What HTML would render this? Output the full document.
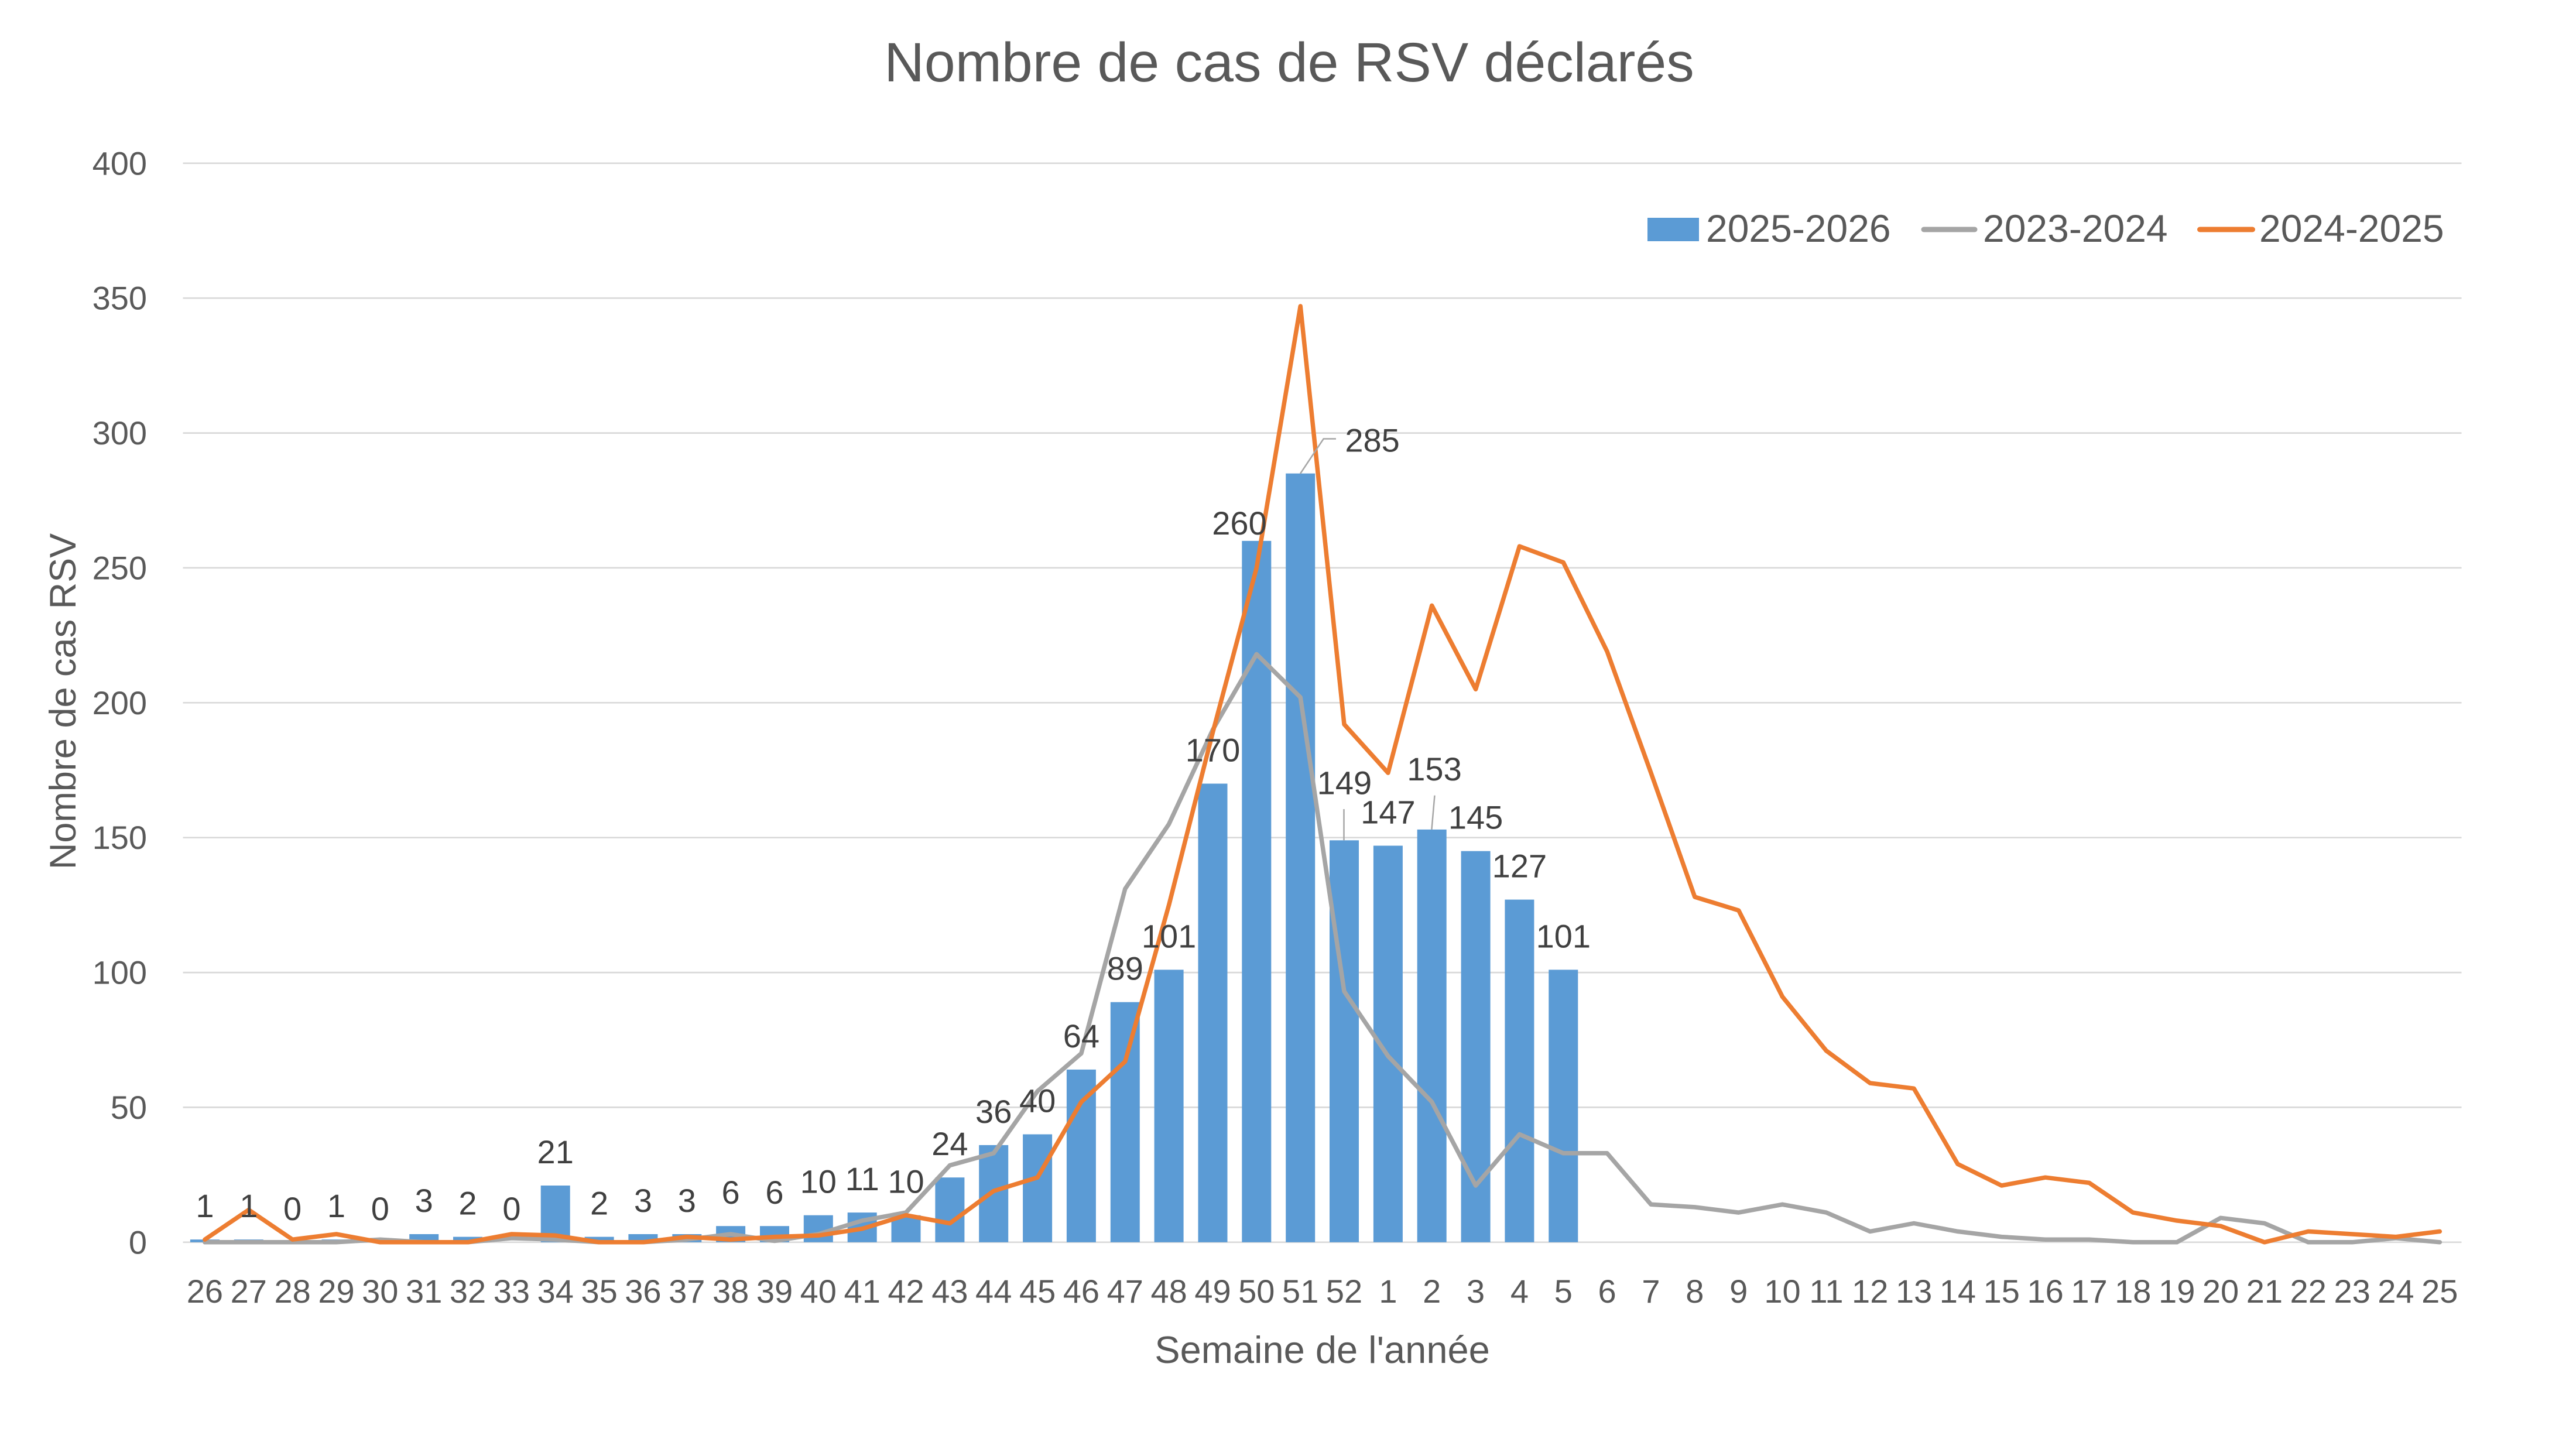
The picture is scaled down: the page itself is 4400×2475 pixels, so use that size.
<!DOCTYPE html>
<html><head><meta charset="utf-8"><style>
html,body{margin:0;padding:0;background:#fff;}
svg{display:block;}
text{font-family:"Liberation Sans",Arial,sans-serif;}
</style></head><body>
<svg width="4400" height="2475" viewBox="0 0 4400 2475" xmlns="http://www.w3.org/2000/svg">
<rect x="0" y="0" width="4400" height="2475" fill="#ffffff"/>
<!-- title -->
<text x="2202" y="139" font-size="95" fill="#595959" text-anchor="middle">Nombre de cas de RSV déclarés</text>
<!-- gridlines -->
<g stroke="#d9d9d9" stroke-width="2.7">
<line x1="312.5" y1="278.8" x2="4204.5" y2="278.8"/>
<line x1="312.5" y1="509.2" x2="4204.5" y2="509.2"/>
<line x1="312.5" y1="739.6" x2="4204.5" y2="739.6"/>
<line x1="312.5" y1="969.9" x2="4204.5" y2="969.9"/>
<line x1="312.5" y1="1200.3" x2="4204.5" y2="1200.3"/>
<line x1="312.5" y1="1430.7" x2="4204.5" y2="1430.7"/>
<line x1="312.5" y1="1661.1" x2="4204.5" y2="1661.1"/>
<line x1="312.5" y1="1891.4" x2="4204.5" y2="1891.4"/>
<line x1="312.5" y1="2121.8" x2="4204.5" y2="2121.8"/>
</g>
<!-- y tick labels -->
<g font-size="56" fill="#595959" text-anchor="end">
<text x="251" y="298.3">400</text>
<text x="251" y="528.7">350</text>
<text x="251" y="759.1">300</text>
<text x="251" y="989.4">250</text>
<text x="251" y="1219.8">200</text>
<text x="251" y="1450.2">150</text>
<text x="251" y="1680.6">100</text>
<text x="251" y="1910.9">50</text>
<text x="251" y="2141.3">0</text>
</g>
<!-- bars -->
<g fill="#5b9bd5">
<rect x="324.9" y="2117.2" width="50" height="4.6"/>
<rect x="399.8" y="2117.2" width="50" height="4.6"/>
<rect x="549.5" y="2117.2" width="50" height="4.6"/>
<rect x="699.2" y="2108.0" width="50" height="13.8"/>
<rect x="774.0" y="2112.6" width="50" height="9.2"/>
<rect x="923.7" y="2025.0" width="50" height="96.8"/>
<rect x="998.6" y="2112.6" width="50" height="9.2"/>
<rect x="1073.4" y="2108.0" width="50" height="13.8"/>
<rect x="1148.3" y="2108.0" width="50" height="13.8"/>
<rect x="1223.1" y="2094.2" width="50" height="27.6"/>
<rect x="1298.0" y="2094.2" width="50" height="27.6"/>
<rect x="1372.8" y="2075.7" width="50" height="46.1"/>
<rect x="1447.7" y="2071.1" width="50" height="50.7"/>
<rect x="1522.5" y="2075.7" width="50" height="46.1"/>
<rect x="1597.4" y="2011.2" width="50" height="110.6"/>
<rect x="1672.2" y="1955.9" width="50" height="165.9"/>
<rect x="1747.1" y="1937.5" width="50" height="184.3"/>
<rect x="1821.9" y="1826.9" width="50" height="294.9"/>
<rect x="1896.8" y="1711.7" width="50" height="410.1"/>
<rect x="1971.6" y="1656.4" width="50" height="465.4"/>
<rect x="2046.5" y="1338.5" width="50" height="783.3"/>
<rect x="2121.3" y="923.9" width="50" height="1197.9"/>
<rect x="2196.2" y="808.7" width="50" height="1313.1"/>
<rect x="2271.0" y="1435.3" width="50" height="686.5"/>
<rect x="2345.9" y="1444.5" width="50" height="677.3"/>
<rect x="2420.7" y="1416.9" width="50" height="704.9"/>
<rect x="2495.6" y="1453.7" width="50" height="668.1"/>
<rect x="2570.4" y="1536.6" width="50" height="585.2"/>
<rect x="2645.3" y="1656.4" width="50" height="465.4"/>
</g>
<!-- gray line 2023-2024 -->
<polyline fill="none" stroke="#a5a5a5" stroke-width="7.5" stroke-linejoin="round" stroke-linecap="round" points="349.9,2121.8 424.8,2121.8 499.6,2121.8 574.5,2121.8 649.3,2117.2 724.2,2121.8 799.0,2121.8 873.9,2114.9 948.7,2117.2 1023.6,2121.8 1098.4,2121.8 1173.3,2117.2 1248.1,2108.0 1323.0,2119.5 1397.8,2108.0 1472.7,2084.9 1547.5,2071.1 1622.4,1990.5 1697.2,1969.8 1772.1,1863.8 1846.9,1799.3 1921.8,1518.2 1996.6,1407.6 2071.5,1246.4 2146.3,1117.4 2221.2,1191.1 2296.0,1693.3 2370.9,1803.9 2445.7,1882.2 2520.6,2025.0 2595.4,1937.5 2670.3,1969.8 2745.1,1969.8 2820.0,2057.3 2894.8,2061.9 2969.7,2071.1 3044.5,2057.3 3119.4,2071.1 3194.2,2103.4 3269.1,2089.5 3343.9,2103.4 3418.8,2112.6 3493.6,2117.2 3568.5,2117.2 3643.3,2121.8 3718.2,2121.8 3793.0,2080.3 3867.9,2089.5 3942.7,2121.8 4017.6,2121.8 4092.4,2114.9 4167.3,2121.8"/>
<!-- orange line 2024-2025 -->
<polyline fill="none" stroke="#ed7d31" stroke-width="7.5" stroke-linejoin="round" stroke-linecap="round" points="349.9,2117.2 424.8,2066.5 499.6,2117.2 574.5,2108.0 649.3,2121.8 724.2,2121.8 799.0,2121.8 873.9,2108.0 948.7,2110.3 1023.6,2121.8 1098.4,2121.8 1173.3,2112.6 1248.1,2117.2 1323.0,2112.6 1397.8,2110.3 1472.7,2098.8 1547.5,2075.7 1622.4,2089.5 1697.2,2034.3 1772.1,2011.2 1846.9,1882.2 1921.8,1813.1 1996.6,1545.9 2071.5,1251.0 2146.3,969.9 2221.2,523.0 2296.0,1237.2 2370.9,1320.1 2445.7,1034.4 2520.6,1177.3 2595.4,933.1 2670.3,960.7 2745.1,1112.8 2820.0,1320.1 2894.8,1532.0 2969.7,1555.1 3044.5,1702.5 3119.4,1794.7 3194.2,1850.0 3269.1,1859.2 3343.9,1988.2 3418.8,2025.0 3493.6,2011.2 3568.5,2020.4 3643.3,2071.1 3718.2,2084.9 3793.0,2094.2 3867.9,2121.8 3942.7,2103.4 4017.6,2108.0 4092.4,2112.6 4167.3,2103.4"/>
<!-- leader lines -->
<g stroke="#a6a6a6" stroke-width="2.5" fill="none">
<polyline points="2221,809 2260.7,749.5 2282,749.5"/>
<line x1="2295.5" y1="1382" x2="2295.5" y2="1435.3"/>
<line x1="2450.5" y1="1358.7" x2="2445.4" y2="1416.9"/>
</g>
<!-- data labels -->
<g font-size="56" fill="#404040" text-anchor="middle">
<text x="349.9" y="2079.2">1</text>
<text x="424.8" y="2079.2">1</text>
<text x="499.6" y="2083.8">0</text>
<text x="574.5" y="2079.2">1</text>
<text x="649.3" y="2083.8">0</text>
<text x="724.2" y="2070.0">3</text>
<text x="799.0" y="2074.6">2</text>
<text x="873.9" y="2083.8">0</text>
<text x="948.7" y="1987.0">21</text>
<text x="1023.6" y="2074.6">2</text>
<text x="1098.4" y="2070.0">3</text>
<text x="1173.3" y="2070.0">3</text>
<text x="1248.1" y="2056.2">6</text>
<text x="1323.0" y="2056.2">6</text>
<text x="1397.8" y="2037.7">10</text>
<text x="1472.7" y="2033.1">11</text>
<text x="1547.5" y="2037.7">10</text>
<text x="1622.4" y="1973.2">24</text>
<text x="1697.2" y="1917.9">36</text>
<text x="1772.1" y="1899.5">40</text>
<text x="1846.9" y="1788.9">64</text>
<text x="1921.8" y="1673.7">89</text>
<text x="1996.6" y="1618.4">101</text>
<text x="2071.5" y="1300.5">170</text>
<text x="2117" y="913">260</text>
<text x="2297.4" y="771.4" text-anchor="start">285</text>
<text x="2296.4" y="1356.6">149</text>
<text x="2370.9" y="1406.5">147</text>
<text x="2450" y="1333.2">153</text>
<text x="2520.6" y="1415.7">145</text>
<text x="2595.4" y="1498.6">127</text>
<text x="2670.3" y="1618.4">101</text>
</g>
<!-- x tick labels -->
<g font-size="56" fill="#595959" text-anchor="middle">
<text x="349.9" y="2225">26</text>
<text x="424.8" y="2225">27</text>
<text x="499.6" y="2225">28</text>
<text x="574.5" y="2225">29</text>
<text x="649.3" y="2225">30</text>
<text x="724.2" y="2225">31</text>
<text x="799.0" y="2225">32</text>
<text x="873.9" y="2225">33</text>
<text x="948.7" y="2225">34</text>
<text x="1023.6" y="2225">35</text>
<text x="1098.4" y="2225">36</text>
<text x="1173.3" y="2225">37</text>
<text x="1248.1" y="2225">38</text>
<text x="1323.0" y="2225">39</text>
<text x="1397.8" y="2225">40</text>
<text x="1472.7" y="2225">41</text>
<text x="1547.5" y="2225">42</text>
<text x="1622.4" y="2225">43</text>
<text x="1697.2" y="2225">44</text>
<text x="1772.1" y="2225">45</text>
<text x="1846.9" y="2225">46</text>
<text x="1921.8" y="2225">47</text>
<text x="1996.6" y="2225">48</text>
<text x="2071.5" y="2225">49</text>
<text x="2146.3" y="2225">50</text>
<text x="2221.2" y="2225">51</text>
<text x="2296.0" y="2225">52</text>
<text x="2370.9" y="2225">1</text>
<text x="2445.7" y="2225">2</text>
<text x="2520.6" y="2225">3</text>
<text x="2595.4" y="2225">4</text>
<text x="2670.3" y="2225">5</text>
<text x="2745.1" y="2225">6</text>
<text x="2820.0" y="2225">7</text>
<text x="2894.8" y="2225">8</text>
<text x="2969.7" y="2225">9</text>
<text x="3044.5" y="2225">10</text>
<text x="3119.4" y="2225">11</text>
<text x="3194.2" y="2225">12</text>
<text x="3269.1" y="2225">13</text>
<text x="3343.9" y="2225">14</text>
<text x="3418.8" y="2225">15</text>
<text x="3493.6" y="2225">16</text>
<text x="3568.5" y="2225">17</text>
<text x="3643.3" y="2225">18</text>
<text x="3718.2" y="2225">19</text>
<text x="3793.0" y="2225">20</text>
<text x="3867.9" y="2225">21</text>
<text x="3942.7" y="2225">22</text>
<text x="4017.6" y="2225">23</text>
<text x="4092.4" y="2225">24</text>
<text x="4167.3" y="2225">25</text>
</g>
<!-- axis titles -->
<text x="2258.5" y="2328" font-size="65" fill="#595959" text-anchor="middle">Semaine de l'année</text>
<text transform="translate(129,1198) rotate(-90)" x="0" y="0" font-size="63" fill="#595959" text-anchor="middle">Nombre de cas RSV</text>
<!-- legend -->
<rect x="2814" y="372" width="88" height="40" fill="#5b9bd5"/>
<text x="2914" y="413" font-size="66" fill="#595959">2025-2026</text>
<line x1="3286" y1="392" x2="3373" y2="392" stroke="#a5a5a5" stroke-width="9" stroke-linecap="round"/>
<text x="3387" y="413" font-size="66" fill="#595959">2023-2024</text>
<line x1="3757.5" y1="392" x2="3847.5" y2="392" stroke="#ed7d31" stroke-width="9" stroke-linecap="round"/>
<text x="3859" y="413" font-size="66" fill="#595959">2024-2025</text>
</svg>
</body></html>
